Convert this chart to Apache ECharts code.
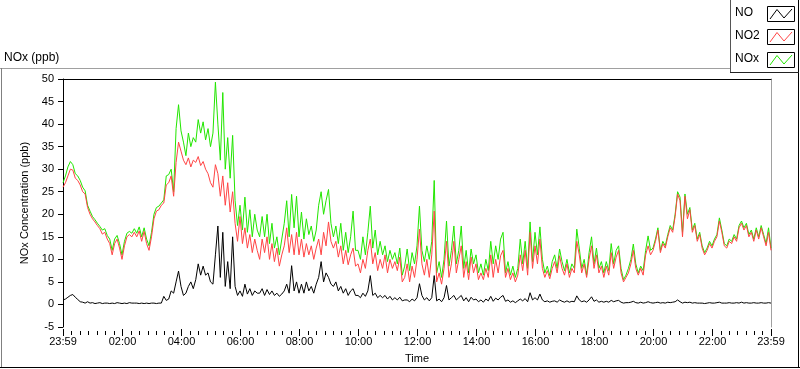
<!DOCTYPE html>
<html><head><meta charset="utf-8">
<script src="https://cdn.jsdelivr.net/npm/echarts@6/dist/echarts.min.js"></script>
<style>html,body{margin:0;padding:0;background:#fff}#c{width:800px;height:369px}</style>
</head><body><div id="c"></div>
<script>
// sampling: one value every 5 minutes, starting 23:59 (minute 0) and ending 23:59 next day (minute 1440)
const stepMinutes = 5;

const NO = [
1,1.2,1.6,2,2.2,1.6,1.1,0.6,0.5,0.3,
0.6,0.3,0.4,0.2,0.3,0.4,0.2,0.3,0.3,0.2,
0.3,0.2,0.4,0.3,0.2,0.3,0.2,0.4,0.3,0.3,
0.3,0.2,0.3,0.2,0.3,0.2,0.3,0.3,0.2,0.3,
0.3,1.8,0.9,1.2,3,2.5,5,7.4,4,2,
2.5,4,5,3.5,5.5,9,6.5,8.5,6.5,7,
5,4.5,11,17.4,6,16,4,9.5,3.5,15,
4,2,3,1.8,4.5,2.3,3.5,2,3,2.5,
2.5,3.5,2,3.3,2.2,3,2,2.5,1.8,2.3,
3,4.5,2.5,8.6,3,5,2.5,4.5,2.5,5,
3,4,2.5,4.5,6,9.5,5,7,6,4.5,
4,5,3,4,2.5,3.5,2,3,3.5,2,
2,1.5,2.5,1.8,3,6.4,2,2.5,1.5,2,
1.5,2,1.2,1.8,1,1.5,1,1.6,0.8,1,
1,0.6,1.2,0.8,1.5,4.6,2,1,1.5,0.8,
1.5,6.4,0.8,1.2,0.6,1.5,4.2,1,1.5,2,
1,1.5,2,0.8,1.5,0.6,1.6,1,1.2,0.6,
1,0.5,1.2,0.8,1.8,0.7,1.4,1,1.6,2,
0.7,1,0.5,0.8,0.4,0.8,1.2,0.8,1.3,0.6,
2.6,1,1.5,1,2.3,1,0.6,0.8,0.5,0.7,
0.8,0.5,1,0.7,0.5,0.8,0.5,0.7,0.6,1.9,
1,0.6,0.8,0.5,1,1.7,0.7,1,0.5,0.7,
0.5,0.7,0.5,0.9,0.6,0.8,0.9,0.5,0.3,0.4,
0.4,0.5,0.7,0.4,0.3,0.5,0.3,0.4,0.6,0.4,
0.3,0.4,0.5,0.3,0.4,0.3,0.5,0.4,0.5,0.6,
1,0.6,0.3,0.5,0.4,0.5,0.3,0.4,0.3,0.3,
0.3,0.2,0.3,0.4,0.3,0.3,0.4,0.5,0.3,0.3,
0.3,0.4,0.3,0.3,0.4,0.3,0.5,0.3,0.4,0.3,
0.3,0.4,0.3,0.3,0.4,0.3,0.3,0.4,0.3
];

const NO2 = [
26,27,28.5,30,29.8,28,27.5,26.5,25,24.5,
21.5,20,19,18.3,17.5,16.8,15.6,16,14.5,13.5,
11,13.5,14.5,12.5,10,13,15,15.5,15,16,
15,16.3,14,16.2,13.5,12,15,19,20.7,21,
22,22.5,26.5,27,28.5,24,31.5,36,34,32,
31,32.5,30.5,32,31.5,32.8,30.8,31.7,30,29,
27,26,31,29,24,28.5,22,27,20.5,25,
18,14,19.5,13.5,17,12.5,15.5,11.5,14.5,12,
10,14.5,11.5,15,10,13.5,9.5,12.5,8.5,11,
13,17,11.5,15.5,11,16,11,14.5,10.5,13.5,
11,13,10,12.5,14.5,11,16,13,18.3,14,
12.5,14,10.5,13,9,12,8.8,11,12.5,8.5,
9,7,10,8,12,14.5,9,11.5,7.5,10,
8,11,7,10,8,9.5,7.5,10.5,5,6,
9,5,8.5,6,10,16.7,9,6.5,10,6,
11,20.7,5,7,4.5,8,14,6,9,14,
7,10,13,6,9.5,5.5,10.5,7,9,5.5,
7,5.5,8,6,11,6,10,7,10.8,12,
6,8,5.5,7,5,6.5,11,7.5,12,6.5,
16,8,13,9,14.5,8,6,7.5,5.7,8,
9.5,7,10.8,8,6.5,9,6,8,7,14,
11,7,9,6,10,13,8,11,7,8.5,
6,8.5,6.5,11.5,8,10.5,12,7,5,6,
7,9,12,8,6.5,8,6.5,11,13,11,
12,14,16.5,11.5,13.5,12.5,15,17,16,19.5,
24.5,23,15,24,19,21,16,17.5,14,15.5,
12.5,11,12,13.5,12.5,14,15,18.5,16,13,
12.5,14,13.5,15,14,17,18,16.5,17.5,15,
16,14,16.5,14.5,17,15,13,16,12
];

const NOx = [
27,28.5,30.5,31.7,31,29,28.5,27.5,26,25.2,
22,20.7,19.5,18.8,18,17.3,16.5,16.8,15.3,14.5,
12,14.5,15.3,13.5,11,14,15.8,16.2,15.8,16.8,
15.8,17.2,15,17,14.5,13,16,20,21.5,21.8,
22.5,23.2,28.5,28.8,30,25,39,44.3,38.5,36,
33,38,35,37,36,41,38,40.5,36.5,39,
35,38,49.3,40,32,47,30,37,28,37.5,
23,17.5,22,16.5,23.8,16,21,15,20,16.5,
15,19.5,15,20,13.5,18,12.5,15,11,14.5,
18,23,15,24.4,17,24,15,20.5,14.5,19,
15.5,17.4,14,16.5,22,25,20,23,25.5,18,
15,17.4,13.5,18,12,16,11.5,15,20.7,12,
12,10,15,11,16,21.8,12.5,16.5,11,14,
11,13,9.5,12,10,11.5,9,12.5,6.5,8.5,
12.3,7.5,11.5,9,13,21.8,12,9.5,13,10,
14,27.5,7,9.5,6,10,18.5,8.5,12,17.4,
9,12,17.4,8,12,7,12.3,9,11,7,
9,6.5,10,7.5,14,9,13,10,14.5,16,
7,9.5,6.5,8.5,6,8,14.5,9,14,8,
18.3,9.5,16,11,17.2,10,7,8.5,6.4,9.5,
11,8,12.3,9.5,7.5,10,7,9,8,16.7,
12.5,8,10,6.5,11.5,15,9,12.5,8,9.5,
7,9.5,7.5,13.5,9,12,13,8,5.5,6.5,
8,10,13.4,9,7,8.5,7.5,12,15.2,12,
12.5,14.5,17,12,14,13,15.5,17.5,16.5,20,
25,23.8,16,24.5,20,21.5,16.5,18,14.5,16,
13,11.5,12.5,14,13,14.5,15.5,19.2,16.5,13.5,
13,14.5,14,15.5,14.5,17.5,18.5,17,18,15.5,
16.5,14.5,17,15,17.5,15.5,13.5,17,12.5
];

const seriesNames = ['NO', 'NO2', 'NOx'];
const xTickMinutes = [0,121,241,361,481,601,721,841,961,1081,1201,1321,1440];
const xTickLabels = ['23:59','02:00','04:00','06:00','08:00','10:00','12:00','14:00','16:00','18:00','20:00','22:00','23:59'];
const yMin = -5, yMax = 50, yStep = 5;

const FONT = 'Liberation Sans, Arial, sans-serif';
const times = NO.map((_, i) => i * stepMinutes);
const pairs = arr => arr.map((v, i) => [times[i], v]);

// minor ticks: 7 subdivisions between labelled ticks
const minorTicks = [];
for (let k = 0; k < xTickMinutes.length - 1; k++) {
  const a = xTickMinutes[k], b = xTickMinutes[k + 1];
  for (let j = 1; j < 7; j++) minorTicks.push(a + (b - a) * j / 7);
}

const chart = echarts.init(document.getElementById('c'), null, {renderer: 'canvas'});

const swatchColors = ['#000000', '#ff4444', '#22e600'];
const legendGraphics = [];
seriesNames.forEach((n, k) => {
  const top = 6 + k * 23;
  legendGraphics.push({type: 'text', left: 735, top: top + 1, style: {text: n, font: '12px ' + FONT, fill: '#000'}});
  legendGraphics.push({type: 'rect', shape: {x: 767.5, y: top + 0.5, width: 27, height: 15}, style: {fill: '#fff', stroke: '#000', lineWidth: 1}});
  legendGraphics.push({type: 'polyline', shape: {points: [[770, top + 13], [777, top + 3.5], [784, top + 12], [792, top + 3]]}, style: {stroke: swatchColors[k], lineWidth: 1, fill: null}});
});

const frame = [
  {type: 'line', shape: {x1: 0, y1: 68.5, x2: 730, y2: 68.5}, style: {stroke: '#a0a0a0', lineWidth: 1}},
  {type: 'line', shape: {x1: 1.5, y1: 68, x2: 1.5, y2: 368}, style: {stroke: '#808080', lineWidth: 1}},
  {type: 'line', shape: {x1: 0, y1: 367.5, x2: 800, y2: 367.5}, style: {stroke: '#000', lineWidth: 1}},
  {type: 'line', shape: {x1: 798.5, y1: 0, x2: 798.5, y2: 368}, style: {stroke: '#000', lineWidth: 1}},
  {type: 'line', shape: {x1: 730.5, y1: 0, x2: 730.5, y2: 72}, style: {stroke: '#555', lineWidth: 1}},
  {type: 'line', shape: {x1: 730, y1: 72.5, x2: 799, y2: 72.5}, style: {stroke: '#222', lineWidth: 1}}
];

const option = {
  animation: false,
  backgroundColor: '#ffffff',
  title: {text: 'NOx (ppb)', left: 4, top: 52, padding: 0,
    textStyle: {fontSize: 12, fontWeight: 'normal', color: '#000', fontFamily: FONT}},
  grid: {left: 63, right: 29, top: 79, bottom: 40, containLabel: false},
  xAxis: [
    {type: 'value', min: 0, max: 1440, position: 'bottom', offset: 2,
     axisLine: {show: false, onZero: false},
     axisTick: {show: true, length: 7, customValues: xTickMinutes, lineStyle: {color: '#000'}},
     axisLabel: {customValues: xTickMinutes, margin: 7, color: '#000', fontSize: 11, fontFamily: FONT,
       formatter: v => { const k = xTickMinutes.indexOf(Math.round(v)); return k >= 0 ? xTickLabels[k] : ''; }},
     splitLine: {show: false},
     name: 'Time', nameLocation: 'middle', nameGap: 24,
     nameTextStyle: {fontSize: 11, color: '#000', fontFamily: FONT}},
    {type: 'value', min: 0, max: 1440, position: 'bottom', offset: 4,
     axisLine: {show: false, onZero: false},
     axisTick: {show: true, length: 4, customValues: minorTicks, lineStyle: {color: '#000'}},
     axisLabel: {show: false}, splitLine: {show: false}},
    {type: 'value', min: 0, max: 1440, position: 'top',
     axisLine: {show: true, onZero: false, lineStyle: {color: '#000', width: 1}},
     axisTick: {show: false}, axisLabel: {show: false}, splitLine: {show: false}}
  ],
  yAxis: [
    {type: 'value', min: yMin, max: yMax, interval: yStep, position: 'left',
     axisLine: {show: true, onZero: false, lineStyle: {color: '#000', width: 1}},
     axisTick: {show: true, length: 5, lineStyle: {color: '#000'}},
     axisLabel: {margin: 9, color: '#000', fontSize: 11, fontFamily: FONT},
     splitLine: {show: false},
     name: 'NOx Concentration (ppb)', nameLocation: 'middle', nameGap: 21, nameRotate: 90,
     nameTextStyle: {fontSize: 11, color: '#000', fontFamily: FONT}},
    {type: 'value', min: yMin, max: yMax, interval: yStep, position: 'right',
     axisLine: {show: true, onZero: false, lineStyle: {color: '#a0a0a0', width: 1}},
     axisTick: {show: false}, axisLabel: {show: false}, splitLine: {show: false}}
  ],
  series: [
    {name: 'NOx', type: 'line', data: pairs(NOx), showSymbol: false, symbol: 'none',
     lineStyle: {color: swatchColors[2], width: 1}, itemStyle: {color: swatchColors[2]}, z: 2},
    {name: 'NO2', type: 'line', data: pairs(NO2), showSymbol: false, symbol: 'none',
     lineStyle: {color: swatchColors[1], width: 1}, itemStyle: {color: swatchColors[1]}, z: 3},
    {name: 'NO', type: 'line', data: pairs(NO), showSymbol: false, symbol: 'none',
     lineStyle: {color: swatchColors[0], width: 1}, itemStyle: {color: swatchColors[0]}, z: 4}
  ],
  graphic: frame.concat(legendGraphics)
};
chart.setOption(option);
</script>
</body></html>
